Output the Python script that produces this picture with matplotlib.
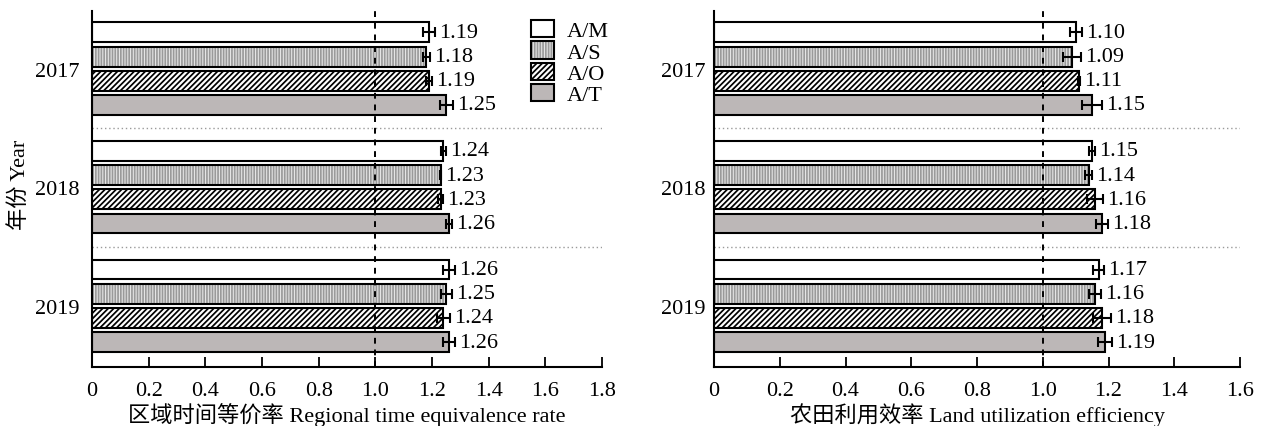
import numpy as np
import matplotlib
matplotlib.use("Agg")
import matplotlib.pyplot as plt
from matplotlib.patches import Patch

plt.rcParams["font.family"] = ["Liberation Serif", "Noto Sans CJK SC"]
plt.rcParams["hatch.linewidth"] = 1.25

# ------------------------------------------------------------
# Data (rows = years, columns = series)
# ------------------------------------------------------------
years = ["2017", "2018", "2019"]
series = ["A/M", "A/S", "A/O", "A/T"]

rte_mean = np.array([
    [1.19, 1.18, 1.19, 1.25],
    [1.24, 1.23, 1.23, 1.26],
    [1.26, 1.25, 1.24, 1.26],
])
rte_err = np.array([
    [0.021, 0.012, 0.010, 0.023],
    [0.010, 0.003, 0.009, 0.010],
    [0.020, 0.020, 0.022, 0.020],
])

lue_mean = np.array([
    [1.10, 1.09, 1.11, 1.15],
    [1.15, 1.14, 1.16, 1.18],
    [1.17, 1.16, 1.18, 1.19],
])
lue_err = np.array([
    [0.018, 0.027, 0.003, 0.030],
    [0.009, 0.010, 0.024, 0.019],
    [0.016, 0.018, 0.027, 0.021],
])

# face colour, hatch, hatch colour
styles = [
    ("white", "", "black"),
    ("#e8e8e8", "||||||", "#9a9a9a"),
    ("white", "//////", "black"),
    ("#bcb7b7", "", "black"),
]

GROUP_PITCH = 4.9
BAR_H = 0.82
W, H = 1262, 427


def draw_panel(ax, means, errs, xmax, xlabel, ypad):
    for i in range(len(series)):
        ys = np.arange(len(years)) * GROUP_PITCH + i
        face, hatch, hcol = styles[i]
        ax.barh(ys, means[:, i], height=BAR_H, color=face, hatch=hatch,
                edgecolor=hcol, linewidth=0, zorder=2)
        ax.barh(ys, means[:, i], height=BAR_H, color="none",
                edgecolor="black", linewidth=1.5, zorder=3)
        ax.errorbar(means[:, i], ys, xerr=errs[:, i], fmt="none",
                    ecolor="black", elinewidth=1.5, capsize=3.5,
                    capthick=1.5, zorder=4)
        for y, m, e in zip(ys, means[:, i], errs[:, i]):
            ax.annotate(f"{m:.2f}", (m + e, y), xytext=(3, 0),
                        textcoords="offset points", va="center",
                        ha="left", fontsize=16)

    # group separators and reference line
    for k in range(1, len(years)):
        ax.axhline((k - 1) * GROUP_PITCH + 3 + (GROUP_PITCH - 3) / 2,
                   color="#9a9a9a", linestyle=(0, (1, 2)), linewidth=1,
                   zorder=1)
    ax.axvline(1.0, color="black", linestyle=(0, (3, 3)), linewidth=1.4,
               zorder=5)

    ax.set_xlim(0, xmax)
    ax.set_ylim(len(years) * GROUP_PITCH - GROUP_PITCH + 3 + 1.03, -0.885)
    ticks = np.arange(0, xmax + 0.001, 0.2)
    ax.set_xticks(ticks)
    ax.set_xticklabels(["0"] + [f"{t:.1f}" for t in ticks[1:]])
    ax.set_yticks(np.arange(len(years)) * GROUP_PITCH + 1.5)
    ax.set_yticklabels(years)
    ax.tick_params(axis="x", direction="in", length=7, width=1.3,
                   labelsize=16, pad=10)
    ax.tick_params(axis="y", length=0, labelsize=16, pad=ypad)
    ax.spines["top"].set_visible(False)
    ax.spines["right"].set_visible(False)
    ax.spines["left"].set_linewidth(1.5)
    ax.spines["bottom"].set_linewidth(1.5)
    ax.set_xlabel(xlabel, fontsize=16, va="center")
    ax.xaxis.set_label_coords(0.5, (12 - 59) / 356)


fig = plt.figure(figsize=(12.62, 4.27), dpi=100)
ax1 = fig.add_axes([92 / W, 59 / H, 510 / W, 356 / H])
ax2 = fig.add_axes([714 / W, 59 / H, 526 / W, 356 / H])

draw_panel(ax1, rte_mean, rte_err, 1.8,
           "区域时间等价率 Regional time equivalence rate", 9)
draw_panel(ax2, lue_mean, lue_err, 1.6,
           "农田利用效率 Land utilization efficiency", 6)

fig.text(20 / W, 1 - 185 / H, "年份 Year", rotation=90, ha="center",
         va="center", fontsize=16)

handles = []
for face, hatch, hcol in styles:
    handles.append((Patch(facecolor=face, hatch=hatch, edgecolor=hcol,
                          linewidth=0),
                    Patch(facecolor="none", edgecolor="black",
                          linewidth=1.5)))
ax1.legend(handles, series, loc="upper left",
           bbox_to_anchor=(531 / W, 1 - 21 / H),
           bbox_transform=fig.transFigure, frameon=False, fontsize=16,
           handlelength=1.05, handleheight=0.82, handletextpad=0.55,
           labelspacing=0.0, borderpad=0, borderaxespad=0)

fig.savefig("out.png", dpi=100)
